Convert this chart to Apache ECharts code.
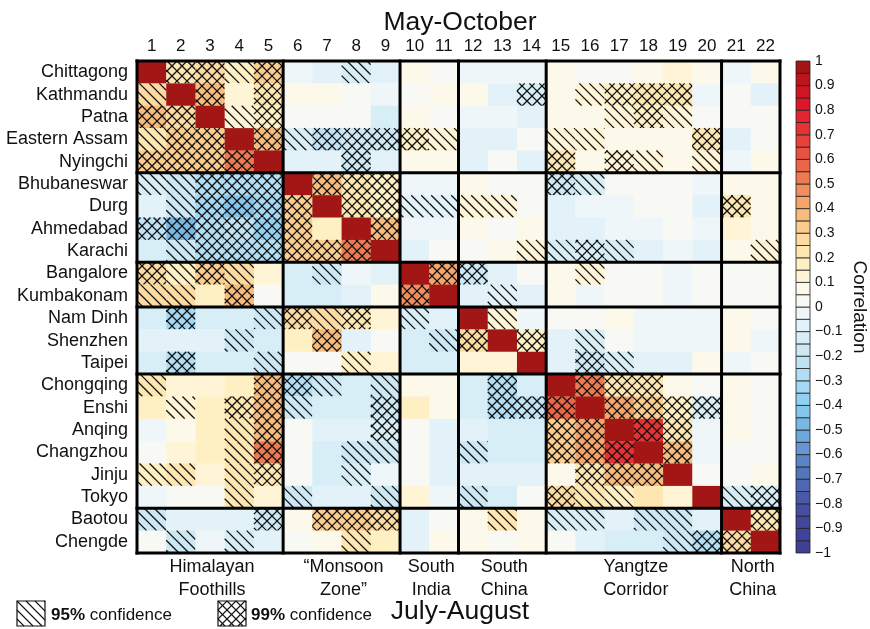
<!DOCTYPE html>
<html>
<head>
<meta charset="utf-8">
<script src="https://cdn.jsdelivr.net/npm/echarts@6/dist/echarts.min.js"></script>
<style>
html, body { margin: 0; padding: 0; background: #fff; }
#chart { width: 870px; height: 629px; }
</style>
</head>
<body>
<div id="chart"></div>
<script>
// station names, rows top to bottom (same order for the numbered columns)
var cities = ['Chittagong', 'Kathmandu', 'Patna', 'Eastern Assam', 'Nyingchi',
    'Bhubaneswar', 'Durg', 'Ahmedabad', 'Karachi', 'Bangalore', 'Kumbakonam',
    'Nam Dinh', 'Shenzhen', 'Taipei', 'Chongqing', 'Enshi', 'Anqing', 'Changzhou',
    'Jinju', 'Tokyo', 'Baotou', 'Chengde'];
var colLabels = ['1', '2', '3', '4', '5', '6', '7', '8', '9', '10', '11',
    '12', '13', '14', '15', '16', '17', '18', '19', '20', '21', '22'];

// region blocks (cumulative column / row counts) and their names
var groupEnds = [0, 5, 9, 11, 14, 20, 22];
var groupNames = ['Himalayan\nFoothills', '\u201cMonsoon\nZone\u201d', 'South\nIndia',
    'South\nChina', 'Yangtze\nCorridor', 'North\nChina'];

// correlation, one row per station
var corr = [
    [1, 0.2, 0.25, 0.15, 0.3, -0.03, -0.08, -0.15, -0.07, 0.06, 0.02, -0.04, -0.04, -0.03, 0.06, 0.02, 0.03, 0.07, 0.13, 0.07, -0.02, 0.08],
    [0.25, 1, 0.35, 0.12, 0.22, 0.06, 0.05, 0.04, -0.05, 0.03, 0.06, 0.05, -0.07, -0.12, 0.05, 0.12, 0.18, 0.2, 0.2, -0.02, 0.04, -0.06],
    [0.35, 0.25, 1, 0.12, 0.18, 0.01, 0.0, 0.0, -0.12, 0.05, 0.03, -0.03, -0.03, -0.07, 0.06, 0.06, 0.12, 0.15, 0.1, 0.0, 0.03, 0.03],
    [0.22, 0.3, 0.33, 1, 0.38, -0.12, -0.22, -0.18, -0.17, 0.15, 0.12, -0.07, -0.07, 0.02, 0.12, 0.1, 0.05, 0.05, 0.06, 0.2, -0.06, 0.02],
    [0.3, 0.3, 0.3, 0.5, 1, -0.06, -0.06, -0.18, -0.06, 0.08, 0.05, -0.06, 0.0, -0.06, 0.2, 0.06, 0.12, 0.1, 0.06, 0.12, -0.02, 0.06],
    [-0.15, -0.2, -0.3, -0.3, -0.3, 1, 0.38, 0.22, 0.18, -0.02, -0.02, 0.06, 0.02, 0.02, -0.2, -0.12, 0.02, 0.03, 0.0, -0.02, 0.05, 0.06],
    [-0.1, -0.2, -0.35, -0.42, -0.35, 0.3, 1, 0.22, 0.15, -0.1, -0.1, 0.12, 0.12, 0.01, -0.08, -0.02, -0.02, 0.0, 0.0, -0.06, 0.2, 0.05],
    [-0.22, -0.5, -0.3, -0.25, -0.38, 0.3, 0.18, 1, 0.35, -0.05, -0.05, 0.08, 0.04, 0.08, -0.06, -0.06, -0.02, -0.02, 0.0, -0.05, 0.14, 0.05],
    [-0.15, -0.2, -0.28, -0.3, -0.28, 0.3, 0.3, 0.5, 1, -0.06, 0.04, 0.02, 0.05, 0.12, -0.12, -0.12, -0.12, -0.06, -0.02, -0.06, 0.06, 0.12],
    [0.28, 0.18, 0.32, 0.25, 0.12, -0.12, -0.18, -0.02, -0.1, 1, 0.4, -0.18, -0.06, 0.01, 0.05, 0.14, 0.03, 0.03, -0.05, 0.02, 0.02, 0.02],
    [0.25, 0.25, 0.18, 0.35, 0.04, -0.12, -0.15, -0.06, 0.08, 0.45, 1, -0.06, -0.1, -0.06, 0.05, -0.02, 0.0, 0.0, -0.05, 0.0, 0.02, 0.02],
    [-0.12, -0.35, -0.12, -0.15, -0.18, 0.28, 0.25, 0.22, 0.12, -0.15, -0.06, 1, 0.12, -0.01, 0.02, 0.02, 0.05, -0.03, -0.03, -0.05, 0.05, 0.02],
    [-0.06, -0.1, -0.06, -0.17, -0.15, 0.18, 0.35, -0.06, 0.02, -0.15, -0.2, 0.25, 1, 0.18, -0.1, -0.12, 0.02, -0.05, -0.05, -0.05, 0.05, -0.01],
    [-0.15, -0.28, -0.12, -0.15, -0.2, 0.02, 0.02, 0.15, 0.12, -0.15, -0.12, 0.1, 0.1, 1, -0.06, -0.2, -0.15, -0.06, -0.06, 0.05, -0.01, 0.03],
    [0.22, 0.12, 0.12, 0.15, 0.35, -0.28, -0.18, -0.15, -0.18, 0.06, 0.06, -0.12, -0.3, -0.12, 1, 0.5, 0.2, 0.2, 0.06, 0.02, 0.05, 0.03],
    [0.18, 0.12, 0.18, 0.22, 0.38, -0.18, -0.15, -0.15, -0.18, 0.15, 0.05, -0.12, -0.3, -0.22, 0.55, 1, 0.4, 0.3, 0.18, -0.12, 0.06, 0.02],
    [-0.02, 0.06, 0.15, 0.2, 0.35, 0.0, -0.1, -0.06, -0.15, 0.02, -0.06, -0.06, -0.15, -0.12, 0.3, 0.42, 1, 0.72, 0.2, -0.02, 0.05, 0.0],
    [0.02, 0.1, 0.15, 0.2, 0.52, 0.0, -0.12, -0.17, -0.17, 0.01, -0.1, -0.17, -0.12, -0.12, 0.3, 0.4, 0.7, 1, 0.38, -0.01, 0.02, 0.02],
    [0.15, 0.2, 0.12, 0.2, 0.2, 0.01, -0.12, -0.15, -0.05, 0.02, -0.08, -0.1, -0.06, -0.06, 0.08, 0.22, 0.35, 0.35, 1, 0.02, 0.02, 0.05],
    [-0.01, 0.03, 0.03, 0.22, 0.12, -0.18, -0.1, -0.06, -0.18, 0.12, -0.05, -0.18, -0.15, 0.03, 0.28, 0.2, 0.18, 0.2, 0.12, 1, -0.12, -0.12],
    [-0.17, -0.06, -0.1, -0.1, -0.17, 0.06, 0.3, 0.3, 0.25, -0.06, 0.02, 0.06, 0.22, 0.06, -0.15, -0.15, -0.1, -0.17, -0.2, -0.1, 1, 0.22],
    [0.02, -0.17, -0.01, -0.13, -0.1, 0.03, 0.06, 0.22, 0.15, -0.06, 0.06, 0.08, 0.02, 0.08, 0.02, -0.1, -0.15, -0.15, -0.18, -0.3, 0.28, 1]
];

// significance: 0 none, 1 = 95% (single hatch), 2 = 99% (cross hatch); spaces split the blocks
var sig = [
    '02212 0010 00 000 000000 00',
    '10202 0000 00 002 012220 00',
    '22012 0000 00 000 001210 00',
    '12202 1222 21 000 110002 00',
    '22220 0020 00 000 202101 00',
    '11222 0222 00 000 210000 00',
    '01222 2022 11 110 000000 20',
    '22222 2002 00 000 000000 00',
    '01222 2220 00 001 121000 01',
    '21210 0100 02 200 010000 00',
    '11020 0000 20 010 000000 00',
    '02001 2120 10 010 000000 00',
    '00010 0200 01 202 010000 00',
    '02001 0010 00 000 021000 00',
    '10002 2101 00 020 022200 00',
    '01022 1002 00 022 202222 00',
    '00012 0002 00 000 220220 00',
    '00012 0011 00 100 222020 00',
    '11012 0010 00 000 022200 00',
    '00010 1001 00 100 211000 12',
    '10002 0222 00 010 110110 02',
    '01010 0010 00 000 000012 20'
];

// 40 colour steps of 0.05, from -1 up to 1
var levelColors = ['#3f3f94', '#41429a', '#43479c', '#464ea2', '#4a58a8', '#4f66b2', '#5474bc', '#5a84c6',
    '#6396d2', '#6ca8dc', '#78b8e6', '#84c6ee', '#92d0f2', '#a2d8f4', '#b1def4', '#bfe3f4',
    '#cce8f4', '#d8eef7', '#e3f2f8', '#eef6f9', '#f8f8f4', '#fdf9ea', '#fff5d6', '#fff0c4',
    '#fee6b0', '#fddba0', '#fbcc8c', '#f8bb7c', '#f5a56c', '#f18e5e', '#ee7a52', '#ec6548',
    '#e95240', '#e8403a', '#e63234', '#e42430', '#df162a', '#d01522', '#bd151c', '#a31616'];

var FONT = '"Liberation Sans", Arial, sans-serif';

function colorFor(v) {
    var i = Math.floor((v + 1) / 0.05 + 1e-9);
    if (i < 0) i = 0;
    if (i > levelColors.length - 1) i = levelColors.length - 1;
    return levelColors[i];
}

// hatch segments inside a rect, anchored on (ox, oy) so the pattern runs on across cells
// dir 1 = "\" lines, dir 2 = "/" lines
function hatchLines(L, T, W, H, s, dir, ox, oy) {
    var out = [], k, d, x1, x2;
    var l = L - ox, t = T - oy;
    if (dir === 1) {
        for (k = Math.ceil((t - l - W) / s); k * s <= t + H - l; k++) {
            d = k * s;
            x1 = Math.max(l, t - d);
            x2 = Math.min(l + W, t + H - d);
            if (x2 - x1 > 0.5) out.push([x1 + ox, x1 + d + oy, x2 + ox, x2 + d + oy]);
        }
    } else {
        for (k = Math.ceil((l + t) / s); k * s <= l + W + t + H; k++) {
            d = k * s;
            x1 = Math.max(l, d - t - H);
            x2 = Math.min(l + W, d - t);
            if (x2 - x1 > 0.5) out.push([x1 + ox, d - x1 + oy, x2 + ox, d - x2 + oy]);
        }
    }
    return out;
}

function lineEls(segs, width) {
    return segs.map(function (p) {
        return {
            type: 'line',
            shape: { x1: p[0], y1: p[1], x2: p[2], y2: p[3] },
            style: { stroke: '#111', lineWidth: width }
        };
    });
}

var cellData = [];
corr.forEach(function (row, r) {
    var s = sig[r].replace(/ /g, '');
    row.forEach(function (v, c) {
        cellData.push([c, r, v, +s.charAt(c)]);
    });
});

var levelData = levelColors.map(function (col, i) {
    return [0, -1 + i * 0.05, -1 + (i + 1) * 0.05, i];
});

var boundData = groupEnds.map(function (b) { return [0, 0, b]; });
var groupData = groupNames.map(function (n, i) { return [0, 0, groupEnds[i], groupEnds[i + 1]]; });

function gridOrigin(api) {
    var c = api.coord([0, 0]);
    var sz = api.size([1, 1]);
    return { x: c[0] - sz[0] / 2, y: c[1] - sz[1] / 2, w: sz[0], h: sz[1] };
}

var chart = echarts.init(document.getElementById('chart'));

var option = {
    animation: false,
    backgroundColor: '#fff',
    grid: [
        { left: 137, top: 61, width: 643, height: 492 },
        { left: 796, top: 61, width: 25, height: 492 }
    ],
    xAxis: [{
        type: 'category',
        gridIndex: 0,
        data: colLabels,
        position: 'top',
        axisLine: { show: false },
        axisTick: { show: false },
        splitLine: { show: false },
        axisLabel: { interval: 0, fontSize: 17, color: '#111', margin: 6, fontFamily: FONT }
    }, {
        type: 'value',
        gridIndex: 1,
        min: 0,
        max: 1,
        show: false
    }],
    yAxis: [{
        type: 'category',
        gridIndex: 0,
        data: cities,
        inverse: true,
        axisLine: { show: false },
        axisTick: { show: false },
        splitLine: { show: false },
        axisLabel: { interval: 0, fontSize: 18, color: '#111', margin: 9, fontFamily: FONT }
    }, {
        type: 'value',
        gridIndex: 1,
        min: -1,
        max: 1,
        interval: 0.1,
        position: 'right',
        axisLine: { show: false },
        axisTick: { show: false },
        splitLine: { show: false },
        axisLabel: {
            fontSize: 14, color: '#111', margin: 5, fontFamily: FONT,
            formatter: function (v) {
                var r = Math.round(v * 10) / 10;
                if (r === 0) return '0';
                return (r < 0 ? '\u2212' : '') + Math.abs(r);
            }
        },
        name: 'Correlation',
        nameLocation: 'middle',
        nameRotate: -90,
        nameGap: 40,
        nameTextStyle: { fontSize: 19, color: '#111', fontFamily: FONT }
    }],
    series: [{
        // correlation cells with significance hatching
        type: 'custom',
        xAxisIndex: 0,
        yAxisIndex: 0,
        silent: true,
        z: 2,
        data: cellData,
        renderItem: function (params, api) {
            var o = gridOrigin(api);
            var c = api.coord([api.value(0), api.value(1)]);
            var L = c[0] - o.w / 2, T = c[1] - o.h / 2;
            var kids = [{
                type: 'rect',
                shape: { x: L, y: T, width: o.w + 0.4, height: o.h + 0.4 },
                style: { fill: colorFor(api.value(2)) }
            }];
            var s = api.value(3);
            if (s >= 1) kids = kids.concat(lineEls(hatchLines(L, T, o.w, o.h, 10, 1, o.x, o.y), 1.3));
            if (s >= 2) kids = kids.concat(lineEls(hatchLines(L, T, o.w, o.h, 10, 2, o.x, o.y), 1.3));
            return { type: 'group', children: kids };
        }
    }, {
        // block separators and frame
        type: 'custom',
        xAxisIndex: 0,
        yAxisIndex: 0,
        silent: true,
        z: 3,
        encode: { x: 0, y: 1 },
        data: boundData,
        renderItem: function (params, api) {
            var o = gridOrigin(api);
            var n = cities.length, b = api.value(2);
            var x = o.x + b * o.w, y = o.y + b * o.h;
            return {
                type: 'group',
                children: [{
                    type: 'line',
                    shape: { x1: x, y1: o.y - 1.5, x2: x, y2: o.y + n * o.h + 1.5 },
                    style: { stroke: '#000', lineWidth: 3 }
                }, {
                    type: 'line',
                    shape: { x1: o.x - 1.5, y1: y, x2: o.x + n * o.w + 1.5, y2: y },
                    style: { stroke: '#000', lineWidth: 3 }
                }]
            };
        }
    }, {
        // region names under the matrix
        type: 'custom',
        xAxisIndex: 0,
        yAxisIndex: 0,
        silent: true,
        z: 3,
        encode: { x: 0, y: 1 },
        data: groupData,
        renderItem: function (params, api) {
            var o = gridOrigin(api);
            var mid = o.x + (api.value(2) + api.value(3)) / 2 * o.w;
            return {
                type: 'text',
                x: mid + 2,
                y: o.y + cities.length * o.h + 3,
                style: {
                    text: groupNames[params.dataIndex],
                    fill: '#111',
                    fontSize: 18,
                    fontFamily: FONT,
                    lineHeight: 23,
                    align: 'center',
                    verticalAlign: 'top'
                }
            };
        }
    }, {
        // colour bar
        type: 'custom',
        xAxisIndex: 1,
        yAxisIndex: 1,
        silent: true,
        encode: { x: 0, y: 1 },
        data: levelData,
        renderItem: function (params, api) {
            var p1 = api.coord([0, api.value(2)]);
            var p2 = api.coord([1, api.value(1)]);
            return {
                type: 'rect',
                shape: { x: p1[0], y: p1[1], width: p2[0] - p1[0], height: p2[1] - p1[1] },
                style: { fill: levelColors[api.value(3)], stroke: '#222', lineWidth: 0.8 }
            };
        }
    }],
    graphic: [{
        type: 'text',
        x: 460,
        y: 23,
        style: { text: 'May-October', fontSize: 26.5, fontFamily: FONT, fill: '#111', align: 'center', verticalAlign: 'middle' }
    }, {
        type: 'text',
        x: 460,
        y: 612,
        style: { text: 'July-August', fontSize: 26.5, fontFamily: FONT, fill: '#111', align: 'center', verticalAlign: 'middle' }
    }, {
        type: 'group',
        children: [
            { type: 'rect', shape: { x: 17, y: 601, width: 28, height: 25 }, style: { fill: '#fff', stroke: '#111', lineWidth: 1.2 } }
        ].concat(lineEls(hatchLines(17, 601, 28, 25, 9, 1, 17, 601), 1.1))
    }, {
        type: 'group',
        children: [
            { type: 'rect', shape: { x: 218, y: 601, width: 28, height: 25 }, style: { fill: '#fff', stroke: '#111', lineWidth: 1.2 } }
        ].concat(lineEls(hatchLines(218, 601, 28, 25, 9, 1, 218, 601), 1.1))
         .concat(lineEls(hatchLines(218, 601, 28, 25, 9, 2, 218, 601), 1.1))
    }, {
        type: 'text',
        x: 51,
        y: 615,
        style: {
            text: '{b|95%} confidence', fontSize: 17, fontFamily: FONT, fill: '#111', verticalAlign: 'middle',
            rich: { b: { fontWeight: 'bold', fontSize: 17, fontFamily: FONT, fill: '#111' } }
        }
    }, {
        type: 'text',
        x: 251,
        y: 615,
        style: {
            text: '{b|99%} confidence', fontSize: 17, fontFamily: FONT, fill: '#111', verticalAlign: 'middle',
            rich: { b: { fontWeight: 'bold', fontSize: 17, fontFamily: FONT, fill: '#111' } }
        }
    }]
};

chart.setOption(option);
window.addEventListener('resize', function () {
    chart.resize();
});
</script>
</body>
</html>
